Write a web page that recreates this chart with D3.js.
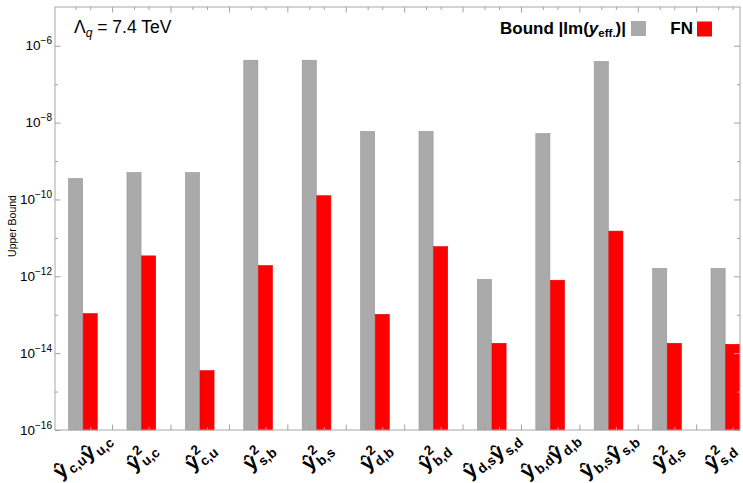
<!DOCTYPE html>
<html>
<head>
<meta charset="utf-8">
<script src="https://cdn.jsdelivr.net/npm/d3@7"></script>
<style>
  body { margin: 0; background: #fff; }
  svg { display: block; }
  text { font-family: "Liberation Sans", Arial, Helvetica, sans-serif; fill: #000; }
</style>
</head>
<body>
<svg id="chart" width="743" height="483"></svg>
<script>
// Category labels: each is a list of [base, superscript, subscript] pieces
const categories = [
  [["ŷ", "", "c,u"], ["ŷ", "", "u,c"]],
  [["ŷ", "2", "u,c"]],
  [["ŷ", "2", "c,u"]],
  [["ŷ", "2", "s,b"]],
  [["ŷ", "2", "b,s"]],
  [["ŷ", "2", "d,b"]],
  [["ŷ", "2", "b,d"]],
  [["ŷ", "", "d,s"], ["ŷ", "", "s,d"]],
  [["ŷ", "", "b,d"], ["ŷ", "", "d,b"]],
  [["ŷ", "", "b,s"], ["ŷ", "", "s,b"]],
  [["ŷ", "2", "d,s"]],
  [["ŷ", "2", "s,d"]]
];

// Upper bound from |Im(y_eff.)| (grey) and FN prediction (red)
const boundValues = [3.5e-10, 5.0e-10, 5.0e-10, 4.2e-7, 4.2e-7, 5.9e-9, 5.9e-9, 8.3e-13, 5.2e-9, 3.9e-7, 1.6e-12, 1.6e-12];
const fnValues    = [1.07e-13, 3.4e-12, 3.5e-15, 1.9e-12, 1.25e-10, 1.02e-13, 5.9e-12, 1.8e-14, 7.9e-13, 1.5e-11, 1.8e-14, 1.7e-14];

const seriesNames = ["Bound", "FN"];
const seriesColors = ["#aaaaaa", "#ff0000"];
const seriesEdges = ["#959595", "#e00000"];

const majorExponents = [-16, -14, -12, -10, -8, -6];
const minorExponents = [-15, -13, -11, -9, -7];

const W = 743;
const frame = { left: 55, right: 740, top: 7, bottom: 430 };

const svg = d3.select("#chart");

// Scales
const y = d3.scaleLog().domain([1e-16, 1.02e-5]).range([frame.bottom, frame.top]);

const x = d3.scaleBand()
  .domain(d3.range(categories.length))
  .range([53.7, 754.6])
  .paddingInner(0.5)
  .paddingOuter(0.25);

const xs = d3.scaleBand().domain([0, 1]).range([0, x.bandwidth()]);

const series = [boundValues, fnValues];

// Bars
const groups = svg.append("g").selectAll("g")
  .data(categories.map((c, i) => i))
  .join("g")
  .attr("transform", i => `translate(${x(i)},0)`);

groups.selectAll("rect")
  .data(i => series.map((vals, s) => ({ s, v: vals[i] })))
  .join("rect")
  .attr("x", d => xs(d.s) + 0.25)
  .attr("width", xs.bandwidth() - 0.5)
  .attr("y", d => y(d.v))
  .attr("height", d => frame.bottom - y(d.v))
  .attr("fill", d => seriesColors[d.s])
  .attr("stroke", d => seriesEdges[d.s])
  .attr("stroke-width", 0.6);

// Frame
svg.append("rect")
  .attr("x", frame.left).attr("y", frame.top)
  .attr("width", frame.right - frame.left)
  .attr("height", frame.bottom - frame.top)
  .attr("fill", "none")
  .attr("stroke", "#a8a8a8")
  .attr("stroke-width", 1);

const tickColor = "#a0a0a0";
function styleAxis(g) {
  g.select(".domain").remove();
  g.selectAll(".tick line").attr("stroke", tickColor).attr("stroke-width", 1);
  g.selectAll(".tick text").remove();
}

// Vertical ticks (left and right), pointing inward
const majors = majorExponents.map(e => Math.pow(10, e));
const minors = minorExponents.map(e => Math.pow(10, e));

svg.append("g").attr("transform", `translate(${frame.left},0)`)
  .call(d3.axisLeft(y).tickValues(majors).tickSize(-5.5)).call(styleAxis);
svg.append("g").attr("transform", `translate(${frame.left},0)`)
  .call(d3.axisLeft(y).tickValues(minors).tickSize(-3)).call(styleAxis);
svg.append("g").attr("transform", `translate(${frame.right},0)`)
  .call(d3.axisRight(y).tickValues(majors).tickSize(-6)).call(styleAxis);
svg.append("g").attr("transform", `translate(${frame.right},0)`)
  .call(d3.axisRight(y).tickValues(minors).tickSize(-3)).call(styleAxis);

// Horizontal ticks: short ones at bar centres, longer ones between groups
const px = d3.scaleIdentity().domain([frame.left, frame.right]);
const barCentres = [];
categories.forEach((c, i) => [0, 1].forEach(s => barCentres.push(x(i) + xs(s) + xs.bandwidth() / 2)));
const gapCentres = d3.range(1, categories.length).map(i => x(i) - x.step() * x.paddingInner() / 2);

svg.append("g").attr("transform", `translate(0,${frame.bottom})`)
  .call(d3.axisBottom(px).tickValues(barCentres).tickSize(-3)).call(styleAxis);
svg.append("g").attr("transform", `translate(0,${frame.bottom})`)
  .call(d3.axisBottom(px).tickValues(gapCentres).tickSize(-5.5)).call(styleAxis);
svg.append("g").attr("transform", `translate(0,${frame.top})`)
  .call(d3.axisTop(px).tickValues(barCentres).tickSize(-3)).call(styleAxis);
svg.append("g").attr("transform", `translate(0,${frame.top})`)
  .call(d3.axisTop(px).tickValues(gapCentres).tickSize(-5.5)).call(styleAxis);

// Y tick labels as powers of ten
const yLabels = svg.append("g");
majorExponents.forEach(e => {
  const t = yLabels.append("text")
    .attr("x", frame.left - 3)
    .attr("y", y(Math.pow(10, e)) + 4.5)
    .attr("text-anchor", "end")
    .attr("font-size", 13.5);
  t.append("tspan").text("10");
  t.append("tspan").attr("font-size", 10).attr("dy", -6).text("\u2212" + Math.abs(e));
});

// Y axis title
svg.append("text")
  .attr("transform", `translate(16,226) rotate(-90)`)
  .attr("text-anchor", "middle")
  .attr("font-size", 10.5)
  .text("Upper Bound");

// Category labels, rotated and centred beneath each group (kept inside the canvas)
const angle = 40, rad = angle * Math.PI / 180;
const labelLayer = svg.append("g");
categories.forEach((pieces, i) => {
  const t = labelLayer.append("text").attr("font-weight", "bold").attr("font-size", 21);
  pieces.forEach(([base, sup, sub]) => {
    t.append("tspan").attr("font-size", 21).text(base);
    if (sup) {
      const s = t.append("tspan").attr("font-size", 13.5).attr("dx", 1).attr("dy", -10).text(sup);
      const back = s.node().getComputedTextLength();
      t.append("tspan").attr("font-size", 13.5).attr("dx", -back).attr("dy", 14).text(sub);
      t.append("tspan").attr("font-size", 21).attr("dy", -4).text("");
    } else {
      t.append("tspan").attr("font-size", 13.5).attr("dx", 1).attr("dy", 4).text(sub);
      t.append("tspan").attr("font-size", 21).attr("dy", -4).text("");
    }
  });
  const bb = t.node().getBBox();
  const halfW = (bb.width * Math.cos(rad) + bb.height * Math.sin(rad)) / 2;
  const cx = Math.min(x(i) + x.bandwidth() / 2, W - 2 - halfW);
  t.attr("transform",
    `translate(${cx},455.5) rotate(${-angle}) translate(${-(bb.x + bb.width / 2)},${-(bb.y + bb.height / 2)})`);
});

// Title
const title = svg.append("text").attr("x", 74).attr("y", 33).attr("font-size", 17.5);
title.append("tspan").text("Λ");
title.append("tspan").attr("font-size", 12).attr("font-style", "italic").attr("dy", 4).text("q");
title.append("tspan").attr("dy", -4).text(" = 7.4 TeV");

// Legend
const legend = svg.append("g").attr("font-weight", "bold").attr("font-size", 17);
const l1 = legend.append("text").attr("x", 626).attr("y", 34).attr("text-anchor", "end");
l1.append("tspan").text("Bound |Im(");
l1.append("tspan").attr("font-style", "italic").text("y");
l1.append("tspan").attr("font-size", 11.5).attr("dy", 3).text("eff.");
l1.append("tspan").attr("dy", -3).text(")|");
legend.append("rect").attr("x", 631).attr("y", 21).attr("width", 15).attr("height", 15)
  .attr("fill", seriesColors[0]);
legend.append("text").attr("x", 693).attr("y", 34).attr("text-anchor", "end").text(seriesNames[1]);
legend.append("rect").attr("x", 697).attr("y", 21.5).attr("width", 15).attr("height", 15)
  .attr("fill", seriesColors[1]);
</script>
</body>
</html>
